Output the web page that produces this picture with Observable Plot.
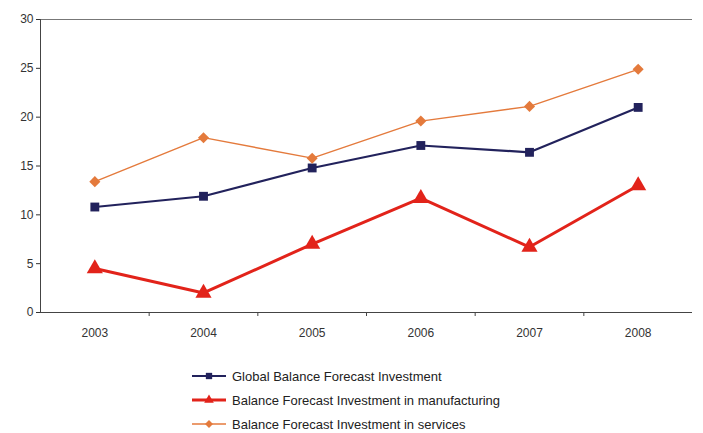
<!DOCTYPE html>
<html><head><meta charset="utf-8">
<script src="https://cdn.jsdelivr.net/npm/d3@7"></script>
<script src="https://cdn.jsdelivr.net/npm/@observablehq/plot@0.6"></script>
<style>
body{margin:0;background:#fff;font-family:"Liberation Sans",Arial,sans-serif;}
#legend{position:absolute;left:190px;top:364px;font-size:13px;color:#222;}
.row{height:24px;display:flex;align-items:center;}
.row svg{margin-right:4px}
</style></head><body>
<div id="chart"></div>
<div id="legend"></div>
<script>
const years = [2003, 2004, 2005, 2006, 2007, 2008];
const globalInv = [10.8, 11.9, 14.8, 17.1, 16.4, 21.0];
const manufacturing = [4.5, 2.0, 7.0, 11.7, 6.7, 13.0];
const services = [13.4, 17.9, 15.8, 19.6, 21.1, 24.9];
const yTicks = [0, 5, 10, 15, 20, 25, 30];
const seriesNames = ["Global Balance Forecast Investment", "Balance Forecast Investment in manufacturing", "Balance Forecast Investment in services"];
const colors = ["#22225c", "#e2231a", "#e47a3c"];
const symbols = ["square", "triangle", "diamond2"];
const widths = [2.2, 3, 1.4];
const sizes = [5, 6, 5];

const seriesVals = [globalInv, manufacturing, services];
const data = seriesVals.flatMap((vals, i) => vals.map((v, j) => ({s: i, year: years[j], v})));
const between = years.slice(0, -1).map(y => y + 0.5);

const marks = [
  Plot.ruleY([30], {stroke: "#777", strokeWidth: 1}),
  Plot.axisY({ticks: yTicks, tickSize: 4, tickPadding: 3, fontSize: 12, color: "#333", label: null}),
  Plot.ruleX([2002.5], {y1: 0, y2: 30, stroke: "#444"}),
  Plot.ruleY([0], {stroke: "#444"}),
  Plot.axisX({ticks: years, tickSize: 0, tickPadding: 16, tickFormat: d => String(d), fontSize: 12, color: "#333", label: null}),
  Plot.axisX({ticks: between, tickSize: 4, tickFormat: () => "", color: "#444", label: null})
];
seriesVals.forEach((vals, i) => {
  const d = data.filter(r => r.s === i);
  marks.push(Plot.line(d, {x: "year", y: "v", stroke: colors[i], strokeWidth: widths[i]}));
  marks.push(Plot.dot(d, {x: "year", y: "v", fill: colors[i], symbol: symbols[i], r: sizes[i]}));
});

const chart = Plot.plot({
  width: 703, height: 350,
  marginLeft: 40, marginRight: 11, marginTop: 19, marginBottom: 38,
  x: {domain: [2002.5, 2008.5]},
  y: {domain: [0, 30]},
  style: {fontFamily: "'Liberation Sans', Arial, sans-serif", background: "#fff"},
  marks
});
document.getElementById("chart").appendChild(chart);

const legend = document.getElementById("legend");
const symMap = {square: d3.symbolSquare, triangle: d3.symbolTriangle, diamond2: d3.symbolDiamond2};
seriesNames.forEach((name, i) => {
  const row = document.createElement("div");
  row.className = "row";
  const sym = d3.symbol().type(symMap[symbols[i]]).size(40)();
  row.innerHTML = `<svg width="38" height="12"><line x1="2" x2="36" y1="6" y2="6" stroke="${colors[i]}" stroke-width="${widths[i]}"/><path d="${sym}" transform="translate(19,6)" fill="${colors[i]}"/></svg><span>${name}</span>`;
  legend.appendChild(row);
});
</script></body></html>
